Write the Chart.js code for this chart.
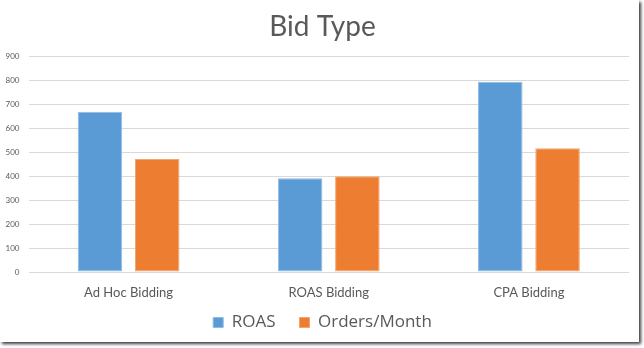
<!DOCTYPE html>
<html>
<head>
<meta charset="utf-8">
<script src="https://cdn.jsdelivr.net/npm/chart.js@4"></script>
<style>
  html, body { margin: 0; padding: 0; background: #fff; }
  #frame {
    position: absolute; left: 0; top: 0;
    width: 639px; height: 342px;
    background: #fff;
    box-shadow: 2px 2px 3px #3a3a3a;
  }
</style>
</head>
<body>
<div id="frame"><canvas id="stage" width="639" height="342"></canvas></div>
<script>
const categories = ['Ad Hoc Bidding', 'ROAS Bidding', 'CPA Bidding'];
const roas = [670, 392, 795];
const ordersPerMonth = [472, 400, 517];
const yTicks = [0, 100, 200, 300, 400, 500, 600, 700, 800, 900];

const textColor = '#595959';
const font = 'Lato, "Open Sans", sans-serif';
const noLabelClip = s => { s._computeLabelArea = () => undefined; };

new Chart(document.getElementById('stage'), {
  type: 'bar',
  data: {
    labels: categories,
    datasets: [{
      label: 'ROAS',
      data: roas,
      backgroundColor: '#5B9BD5',
      borderColor: '#8FBCE6',
      borderWidth: 1,
      borderSkipped: false,
    }, {
      label: 'Orders/Month',
      data: ordersPerMonth,
      backgroundColor: '#ED7D31',
      borderColor: '#F4A46E',
      borderWidth: 1,
      borderSkipped: false,
    }]
  },
  options: {
    responsive: false,
    animation: false,
    devicePixelRatio: 1,
    layout: { padding: { left: 16, right: 10, top: 9, bottom: 1 } },
    datasets: {
      bar: { categoryPercentage: 0.572, barPercentage: 0.778 }
    },
    plugins: {
      title: {
        display: true,
        text: 'Bid Type',
        color: textColor,
        font: { family: font, size: 28, weight: 'normal' },
        padding: { top: 1, bottom: 13 },
      },
      legend: {
        position: 'bottom',
        labels: {
          color: textColor,
          font: { family: '"Open Sans", sans-serif', size: 17 },
          boxWidth: 10,
          boxHeight: 10,
          padding: 24,
        }
      },
      tooltip: { enabled: false },
    },
    scales: {
      x: {
        // short axis box so the legend row can sit close; labels spill below it
        afterFit: s => { s.height = 18; noLabelClip(s); },
        grid: { display: false, drawTicks: false },
        border: { display: false },
        ticks: {
          color: textColor,
          font: { family: font, size: 13 },
          padding: 13,
        }
      },
      y: {
        min: 0,
        max: 900,
        afterFit: s => { s.width = 12.5; noLabelClip(s); },
        afterBuildTicks: s => { s.ticks = yTicks.map(v => ({ value: v })); },
        grid: { color: '#D9D9D9', lineWidth: 1, drawTicks: false },
        border: { display: false },
        ticks: {
          color: textColor,
          font: { family: font, size: 8 },
          padding: 9,
        }
      }
    }
  }
});
</script>
</body>
</html>
